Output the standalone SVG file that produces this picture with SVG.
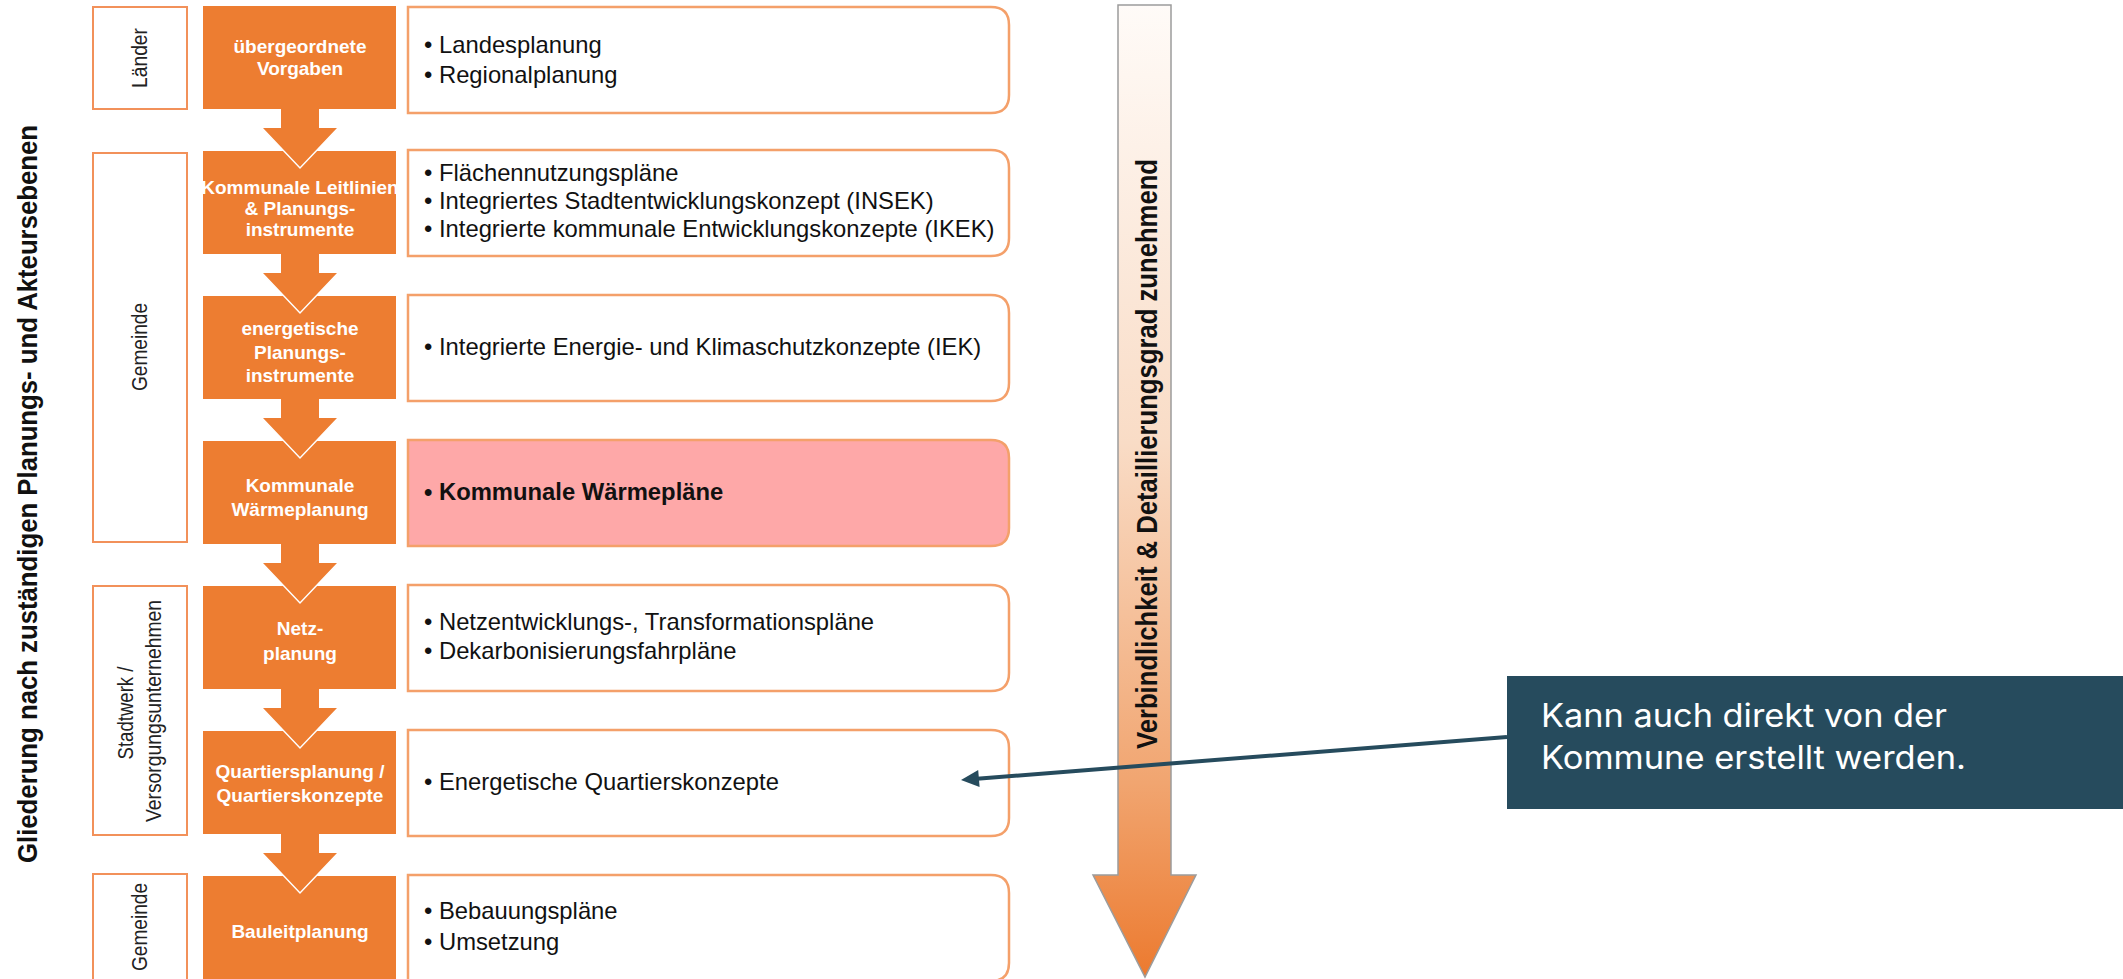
<svg xmlns="http://www.w3.org/2000/svg" width="2123" height="979" viewBox="0 0 2123 979">
<defs>
<linearGradient id="bigGrad" gradientUnits="userSpaceOnUse" x1="0" y1="5" x2="0" y2="977">
<stop offset="0" stop-color="#fffbf8"/>
<stop offset="0.45" stop-color="#f9dcc6"/>
<stop offset="0.8" stop-color="#f1a570"/>
<stop offset="1" stop-color="#ec7a2f"/>
</linearGradient>
<style>
.lbl{fill:#fff;stroke:#f2915a;stroke-width:2}
.ob{fill:#ed7d31}
.ot{font-family:"Liberation Sans",Arial,sans-serif;font-weight:bold;font-size:19px;fill:#fff;text-anchor:middle}
.rb{fill:#fff;stroke:#f4a06a;stroke-width:2.5}
.rt{font-family:"Liberation Sans",Arial,sans-serif;font-size:23.8px;fill:#111}
.lt{font-family:"Liberation Sans",Arial,sans-serif;font-size:22px;fill:#222;text-anchor:middle}
.fa{fill:#ed7d31}
.fe{fill:none;stroke:#fff;stroke-width:1.5}
.ct{font-family:Inter,Roboto,sans-serif;font-size:32px;fill:#fff}
</style>
</defs>

<g id="title">
<text transform="translate(37,494) rotate(-90)" text-anchor="middle" font-family="Liberation Sans, Arial, sans-serif" font-weight="bold" font-size="28" fill="#111" textLength="738" lengthAdjust="spacingAndGlyphs">Gliederung nach zuständigen Planungs- und Akteursebenen</text>
</g>

<g id="label-laender">
<rect class="lbl" x="93" y="7" width="94" height="102"/>
<text class="lt" transform="translate(147,58) rotate(-90)" textLength="60" lengthAdjust="spacingAndGlyphs">Länder</text>
</g>
<g id="label-gemeinde1">
<rect class="lbl" x="93" y="153" width="94" height="389"/>
<text class="lt" transform="translate(147,347) rotate(-90)" textLength="88" lengthAdjust="spacingAndGlyphs">Gemeinde</text>
</g>
<g id="label-stadtwerk">
<rect class="lbl" x="93" y="586" width="94" height="249"/>
<text class="lt" transform="translate(133,713) rotate(-90)" textLength="93" lengthAdjust="spacingAndGlyphs">Stadtwerk /</text>
<text class="lt" transform="translate(161,711) rotate(-90)" textLength="222" lengthAdjust="spacingAndGlyphs">Versorgungsunternehmen</text>
</g>
<g id="label-gemeinde2">
<rect class="lbl" x="93" y="874" width="94" height="110"/>
<text class="lt" transform="translate(147,927) rotate(-90)" textLength="88" lengthAdjust="spacingAndGlyphs">Gemeinde</text>
</g>

<g id="step1">
<rect class="ob" x="203" y="6" width="193" height="103"/>
<text class="ot" x="300" y="53">übergeordnete</text>
<text class="ot" x="300" y="75">Vorgaben</text>
</g>
<g id="step2">
<rect class="ob" x="203" y="151" width="193" height="103"/>
<text class="ot" x="300" y="194" font-size="17.5">Kommunale Leitlinien</text>
<text class="ot" x="300" y="215" font-size="17.5">&amp; Planungs-</text>
<text class="ot" x="300" y="236" font-size="17.5">instrumente</text>
</g>
<g id="step3">
<rect class="ob" x="203" y="296" width="193" height="103"/>
<text class="ot" x="300" y="335">energetische</text>
<text class="ot" x="300" y="359">Planungs-</text>
<text class="ot" x="300" y="382">instrumente</text>
</g>
<g id="step4">
<rect class="ob" x="203" y="441" width="193" height="103"/>
<text class="ot" x="300" y="492">Kommunale</text>
<text class="ot" x="300" y="516">Wärmeplanung</text>
</g>
<g id="step5">
<rect class="ob" x="203" y="586" width="193" height="103"/>
<text class="ot" x="300" y="635">Netz-</text>
<text class="ot" x="300" y="660">planung</text>
</g>
<g id="step6">
<rect class="ob" x="203" y="731" width="193" height="103"/>
<text class="ot" x="300" y="778">Quartiersplanung /</text>
<text class="ot" x="300" y="802">Quartierskonzepte</text>
</g>
<g id="step7">
<rect class="ob" x="203" y="876" width="193" height="110"/>
<text class="ot" x="300" y="938">Bauleitplanung</text>
</g>

<g id="detail1">
<path class="rb" d="M408 7 H991 Q1009 7 1009 25 V95 Q1009 113 991 113 H408 Z"/>
<text class="rt" x="424" y="53">• Landesplanung</text>
<text class="rt" x="424" y="83">• Regionalplanung</text>
</g>
<g id="detail2">
<path class="rb" d="M408 150 H991 Q1009 150 1009 168 V238 Q1009 256 991 256 H408 Z"/>
<text class="rt" x="424" y="181">• Flächennutzungspläne</text>
<text class="rt" x="424" y="209">• Integriertes Stadtentwicklungskonzept (INSEK)</text>
<text class="rt" x="424" y="237">• Integrierte kommunale Entwicklungskonzepte (IKEK)</text>
</g>
<g id="detail3">
<path class="rb" d="M408 295 H991 Q1009 295 1009 313 V383 Q1009 401 991 401 H408 Z"/>
<text class="rt" x="424" y="355">• Integrierte Energie- und Klimaschutzkonzepte (IEK)</text>
</g>
<g id="detail4">
<path class="rb" d="M408 440 H991 Q1009 440 1009 458 V528 Q1009 546 991 546 H408 Z" style="fill:#fea8a8"/>
<text class="rt" x="424" y="500" font-weight="bold">• Kommunale Wärmepläne</text>
</g>
<g id="detail5">
<path class="rb" d="M408 585 H991 Q1009 585 1009 603 V673 Q1009 691 991 691 H408 Z"/>
<text class="rt" x="424" y="630">• Netzentwicklungs-, Transformationspläne</text>
<text class="rt" x="424" y="659">• Dekarbonisierungsfahrpläne</text>
</g>
<g id="detail6">
<path class="rb" d="M408 730 H991 Q1009 730 1009 748 V818 Q1009 836 991 836 H408 Z"/>
<text class="rt" x="424" y="790">• Energetische Quartierskonzepte</text>
</g>
<g id="detail7">
<path class="rb" d="M408 875 H991 Q1009 875 1009 893 V963 Q1009 981 991 981 H408 Z"/>
<text class="rt" x="424" y="919">• Bebauungspläne</text>
<text class="rt" x="424" y="950">• Umsetzung</text>
</g>

<g id="big-arrow">
<path d="M1118 5 H1171 V875 H1196 L1145 977 L1093 875 H1118 Z" fill="url(#bigGrad)" stroke="#9c9c9c" stroke-width="1.5"/>
<text transform="translate(1157,454) rotate(-90)" text-anchor="middle" font-family="Liberation Sans, Arial, sans-serif" font-weight="bold" font-size="29" fill="#111" textLength="590" lengthAdjust="spacingAndGlyphs">Verbindlichkeit &amp; Detaillierungsgrad zunehmend</text>
</g>

<g id="callout">
<rect x="1507" y="676" width="616" height="133" fill="#264b5d"/>
<text class="ct" x="1541" y="727" textLength="406" lengthAdjust="spacingAndGlyphs">Kann auch direkt von der</text>
<text class="ct" x="1541" y="769" textLength="425" lengthAdjust="spacingAndGlyphs">Kommune erstellt werden.</text>
</g>

<g id="connectors">
<g id="flow-arrows">
<path class="fa" d="M281 109 H319 V128 H338 L300 168 L262 128 H281 Z"/>
<path class="fe" d="M262 128 L300 168 L338 128"/>
<path class="fa" d="M281 254 H319 V273 H338 L300 313 L262 273 H281 Z"/>
<path class="fe" d="M262 273 L300 313 L338 273"/>
<path class="fa" d="M281 399 H319 V418 H338 L300 458 L262 418 H281 Z"/>
<path class="fe" d="M262 418 L300 458 L338 418"/>
<path class="fa" d="M281 544 H319 V563 H338 L300 603 L262 563 H281 Z"/>
<path class="fe" d="M262 563 L300 603 L338 563"/>
<path class="fa" d="M281 689 H319 V708 H338 L300 748 L262 708 H281 Z"/>
<path class="fe" d="M262 708 L300 748 L338 708"/>
<path class="fa" d="M281 834 H319 V853 H338 L300 893 L262 853 H281 Z"/>
<path class="fe" d="M262 853 L300 893 L338 853"/>
</g>
<g id="callout-connector">
<line x1="1507" y1="737" x2="977" y2="778.7" stroke="#264b5d" stroke-width="4"/>
<polygon points="961,780 978.2,770.1 979.6,787.1" fill="#264b5d"/>
</g>
</g>
</svg>
